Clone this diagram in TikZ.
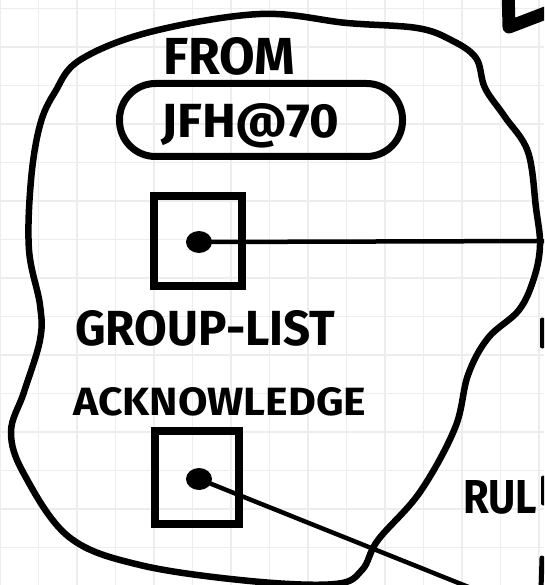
\documentclass[tikz,border=0pt]{standalone}
\usepackage{fontspec}
\setmainfont{Fira Sans}
\usetikzlibrary{shapes.geometric}
\begin{document}
\begin{tikzpicture}[x=1pt,y=-1pt,
  ink/.style={draw=black, line cap=round, line join=round},
  outline/.style={ink, line width=6.5pt},
  pill/.style={draw, line width=7pt, rounded corners=36pt, minimum width=283pt, minimum height=73pt, inner sep=0pt},
  slot/.style={draw, line width=8pt, inner sep=0pt},
  dot/.style={ellipse, fill=black, minimum width=26pt, minimum height=22pt, inner sep=0pt},
  wire/.style={ink, line width=4.5pt},
  lbl/.style={inner sep=0pt, anchor=base west},
  gridline/.style={draw=black!7, line width=1.2pt}]
\useasboundingbox (0,0) rectangle (544,585);
\clip (0,0) rectangle (544,585);
\fill[white] (0,0) rectangle (544,585);
\foreach \i in {0,...,14} { \draw[gridline] (\i*38.5,0) -- (\i*38.5,585); }
\foreach \j in {0,...,15} { \draw[gridline] (0,8.5+\j*38.5) -- (544,8.5+\j*38.5); }
% blob outline
\draw[outline] plot[smooth cycle, tension=0.6] coordinates {
 (260,14) (347,23) (417,28) (451,40) (476,58) (485,88) (505,117) (528,152)
 (536,208) (540,245) (534,278) (519,310) (488,338) (468,375) (455,428)
 (420,492) (378,540) (362,570) (335,584) (250,581) (140,565) (69,537)
 (24,474) (11,432) (24,392) (40,340) (40,305) (29,250) (31,180) (40,125)
 (55,92) (80,60) (150,32)};
% texts
\node[lbl] (from) at (163,75) {\resizebox{132pt}{37pt}{\bfseries FROM}};
\node[pill] (pillbox) at (261,120) {};
\node[lbl] (jfh) at (161,138) {\resizebox{178pt}{34pt}{\bfseries JFH@70}};
\node[lbl] (glist) at (75,345) {\resizebox{260pt}{35pt}{\bfseries GROUP-LIST}};
\node[lbl] (ack) at (73,415) {\resizebox{293pt}{28pt}{\bfseries ACKNOWLEDGE}};
\node[lbl] (rul) at (463,513) {\resizebox{74pt}{33pt}{\bfseries RUL}};
% group-list slot
\node[slot, minimum width=88pt, minimum height=90pt] (gbox) at (198,241) {};
\node[dot] (gdot) at (199,242) {};
\coordinate (gend) at (552,241);
\draw[wire] (gdot.center) -- (gend);
% acknowledge slot
\node[slot, minimum width=84pt, minimum height=93pt] (abox) at (197,477.5) {};
\node[dot] (adot) at (199,479) {};
\coordinate (aend) at (471,588);
\draw[wire] (adot.center) -- (aend);
% arrow at top right
\coordinate (arrtop) at (508,-12);
\coordinate (arrtip) at (509,27);
\coordinate (arrright) at (556,9);
\draw[ink, line width=13pt] (arrtop) -- (arrtip) -- (arrright);
% letter fragments cut by the right edge
\draw[ink, line width=5pt] (542,320) -- (542,346);
\draw[ink, line width=5pt] (543,478) -- (543,503);
\draw[ink, line width=5pt] (542,558) -- (541,590);
\end{tikzpicture}
\end{document}
